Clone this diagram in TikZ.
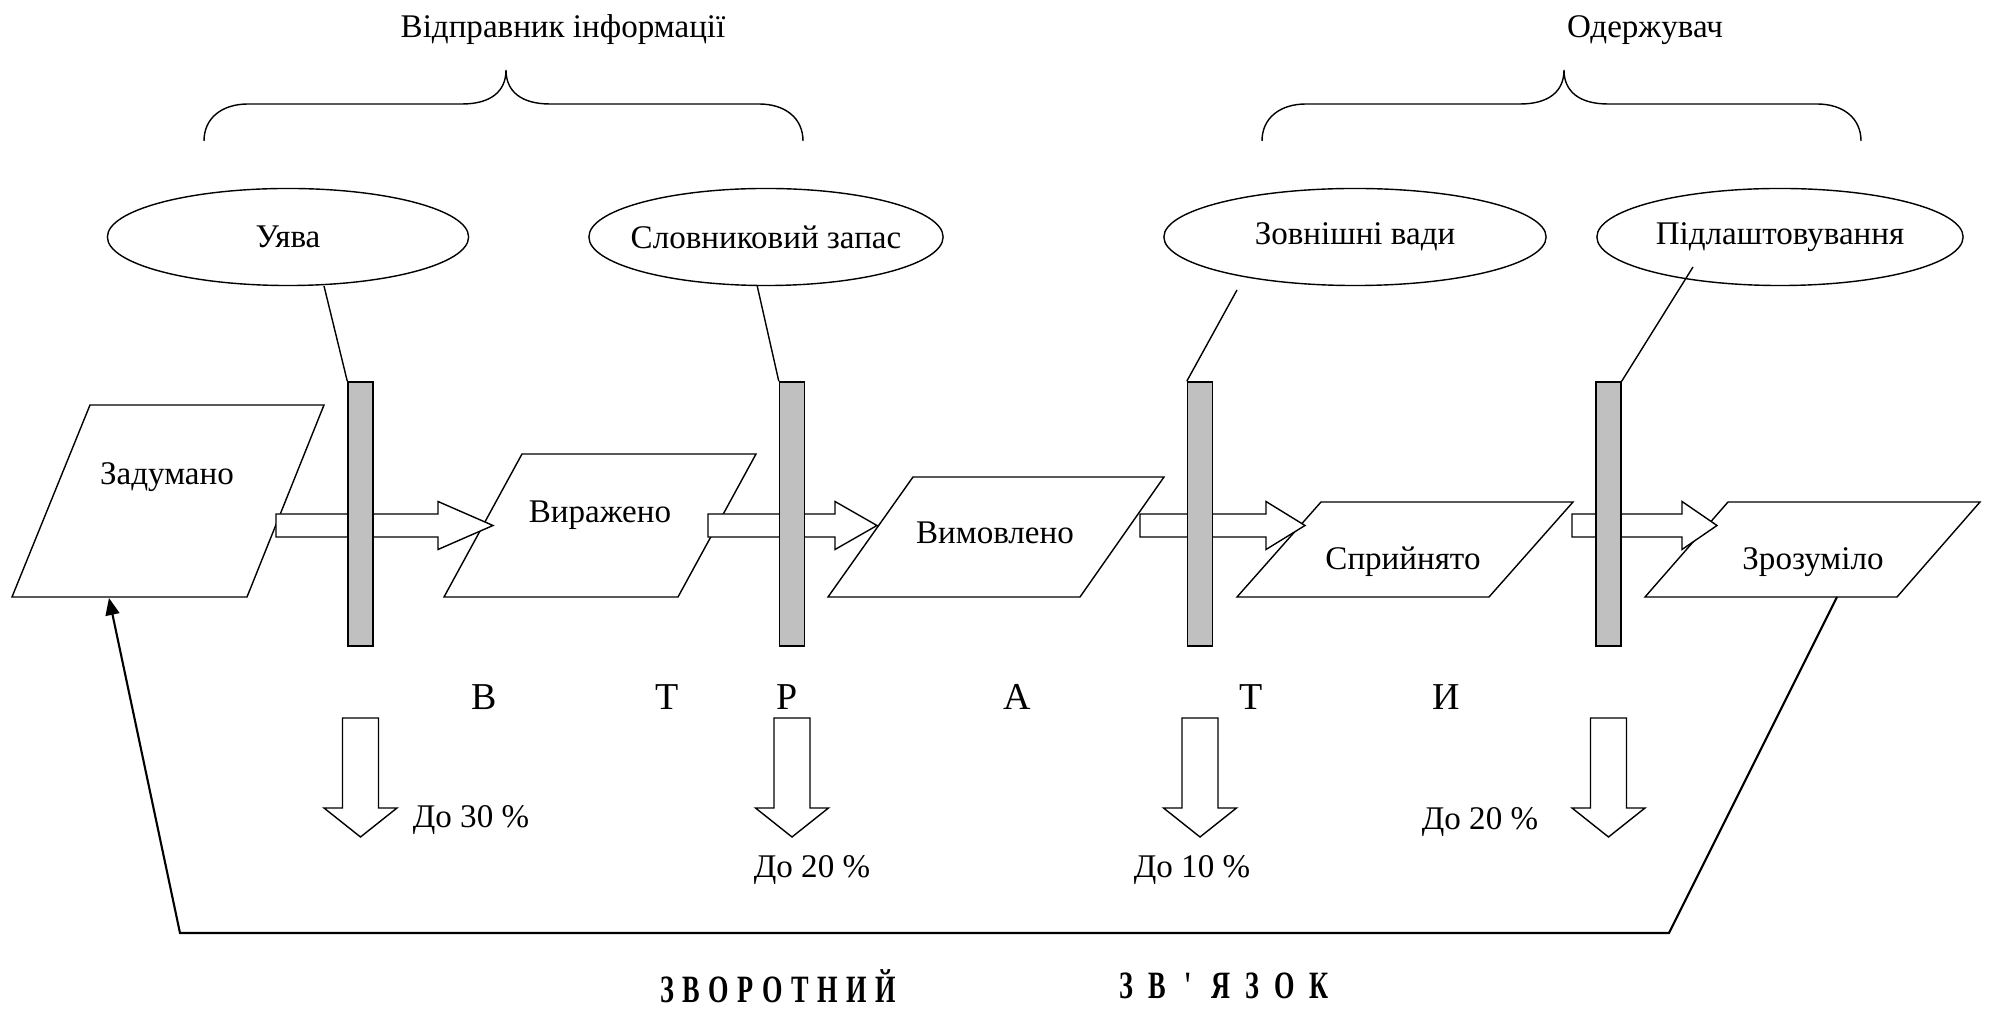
\documentclass[tikz,border=0pt]{standalone}
\usepackage{fontspec}
\setmainfont{Liberation Serif}
\newfontfamily\fbfont{Liberation Serif}[FakeStretch=0.68,LetterSpace=22]
\usepackage{tikz}
\usetikzlibrary{arrows.meta,calc,shapes.geometric}
\definecolor{barfill}{RGB}{192,192,192}

% hollow block arrows: tail, tip, head length
\newcommand{\hollowright}[3]{%
  \draw[hollow] ($(#1)+(0,-11.5)$) -- ($(#2)+(-#3,-11.5)$) -- ($(#2)+(-#3,-24)$) -- (#2)
    -- ($(#2)+(-#3,24)$) -- ($(#2)+(-#3,11.5)$) -- ($(#1)+(0,11.5)$) -- cycle;}
\newcommand{\hollowdown}[2]{%
  \draw[hollow] ($(#1)+(-18,0)$) -- ($(#1)+(18,0)$) -- ($(#2)+(18,-29)$) -- ($(#2)+(36.5,-29)$)
    -- (#2) -- ($(#2)+(-36.5,-29)$) -- ($(#2)+(-18,-29)$) -- cycle;}

\begin{document}
\begin{tikzpicture}[
  x=0.01cm,y=-0.01cm,
  font=\fontsize{9.4}{11}\selectfont,
  oval/.style={ellipse,draw,minimum height=0.97cm,inner sep=0pt},
  bar/.style={rectangle,draw,fill=barfill,minimum width=0.25cm,minimum height=2.64cm,inner sep=0pt},
  para/.style={draw,fill=white},
  hollow/.style={draw,fill=white},
  letter/.style={font=\fontsize{10.8}{13}\selectfont},
  back/.style={-{Triangle[length=0.17cm,width=0.14cm]},line width=0.6pt},
  bigbold/.style={font=\fbfont\bfseries\fontsize{11}{13}\selectfont,inner sep=0pt}
]
  \useasboundingbox (0,0) rectangle (1999,1010);

  % braces and headings
  \draw (204,141) .. controls (204,118) and (222,104) .. (248,104) -- (462,104)
    .. controls (490,104) and (506,92) .. (506,70) .. controls (506,92) and (522,104) .. (550,104)
    -- (759,104) .. controls (785,104) and (803,118) .. (803,141);
  \draw[shift={(1058,0)}] (204,141) .. controls (204,118) and (222,104) .. (248,104) -- (462,104)
    .. controls (490,104) and (506,92) .. (506,70) .. controls (506,92) and (522,104) .. (550,104)
    -- (759,104) .. controls (785,104) and (803,118) .. (803,141);
  \node (sender) at (563,30) {Відправник інформації};
  \node (receiver) at (1645,30) {Одержувач};

  \node[oval,minimum width=3.61cm] (uyava) at (288,237) {\makebox[0pt]{Уява}};
  \node[oval,minimum width=3.54cm] (slov) at (766,237) {\makebox[0pt]{Словниковий запас}};
  \node[oval,minimum width=3.82cm] (vady) at (1355,237) {\makebox[0pt]{Зовнішні вади}};
  \node[oval,minimum width=3.66cm] (pidl) at (1780,237) {\makebox[0pt]{Підлаштовування}};

  % stages
  \draw[para] (90,405) -- (324,405) -- (247,597) -- (12,597) -- cycle;
  \draw[para] (522,454) -- (756,454) -- (678,597) -- (444,597) -- cycle;
  \draw[para] (913,477) -- (1164,477) -- (1080,597) -- (828,597) -- cycle;
  \draw[para] (1321,502) -- (1573,502) -- (1489,597) -- (1237,597) -- cycle;
  \draw[para] (1728,502) -- (1980,502) -- (1897,597) -- (1645,597) -- cycle;
  \node (zad) at (167,477) {Задумано};
  \node (vyr) at (600,515) {Виражено};
  \node (vym) at (995,533) {Вимовлено};
  \node (spr) at (1403,562) {Сприйнято};
  \node (zroz) at (1813,562) {Зрозуміло};

  \coordinate (t1) at (276,525.5);  \coordinate (h1) at (493,525.5);
  \coordinate (t2) at (708,525.5);  \coordinate (h2) at (877,525.5);
  \coordinate (t3) at (1140,525.5); \coordinate (h3) at (1305,525.5);
  \coordinate (t4) at (1572,525.5); \coordinate (h4) at (1717,525.5);
  \hollowright{t1}{h1}{55}
  \hollowright{t2}{h2}{42}
  \hollowright{t3}{h3}{39}
  \hollowright{t4}{h4}{35}

  % barriers
  \node[bar] (bar1) at (360.5,514) {};
  \node[bar] (bar2) at (792,514) {};
  \node[bar] (bar3) at (1200,514) {};
  \node[bar] (bar4) at (1608.5,514) {};
  \coordinate (l1) at (324,286);
  \coordinate (l2) at (757,285);
  \coordinate (l3) at (1237,290);
  \coordinate (l4) at (1693,267);
  \draw (l1) -- (bar1.north west);
  \draw (l2) -- (bar2.north west);
  \draw (l3) -- (bar3.north west);
  \draw (l4) -- (bar4.north east);

  % losses
  \node[letter] at (484,697) {В};
  \node[letter] at (667,697) {Т};
  \node[letter] at (787,697) {Р};
  \node[letter] at (1017,697) {А};
  \node[letter] at (1251,697) {Т};
  \node[letter] at (1446,697) {И};
  \foreach \x/\n in {360.5/1,792/2,1200/3,1608.5/4}{
    \coordinate (d\n) at (\x,718);
    \coordinate (e\n) at (\x,837);
    \hollowdown{d\n}{e\n}
  }
  \node (p1) at (471,820) {До 30 \%};
  \node (p2) at (812,870) {До 20 \%};
  \node (p3) at (1192,870) {До 10 \%};
  \node (p4) at (1480,822) {До 20 \%};

  % feedback
  \coordinate (fb1) at (1837,597);
  \coordinate (fb2) at (1669,933);
  \coordinate (fb3) at (180,933);
  \coordinate (fb4) at (109,598);
  \draw[back] (fb1) -- (fb2) -- (fb3) -- (fb4);
  \node[bigbold] (fbw1) at (778,986) {ЗВОРОТНИЙ};
  \node[bigbold] (fbw2) at (1224,986) {З\hspace{0.15cm}В\hspace{0.19cm}'\hspace{0.19cm}Я\hspace{0.15cm}З\hspace{0.15cm}О\hspace{0.15cm}К};
\end{tikzpicture}
\end{document}
